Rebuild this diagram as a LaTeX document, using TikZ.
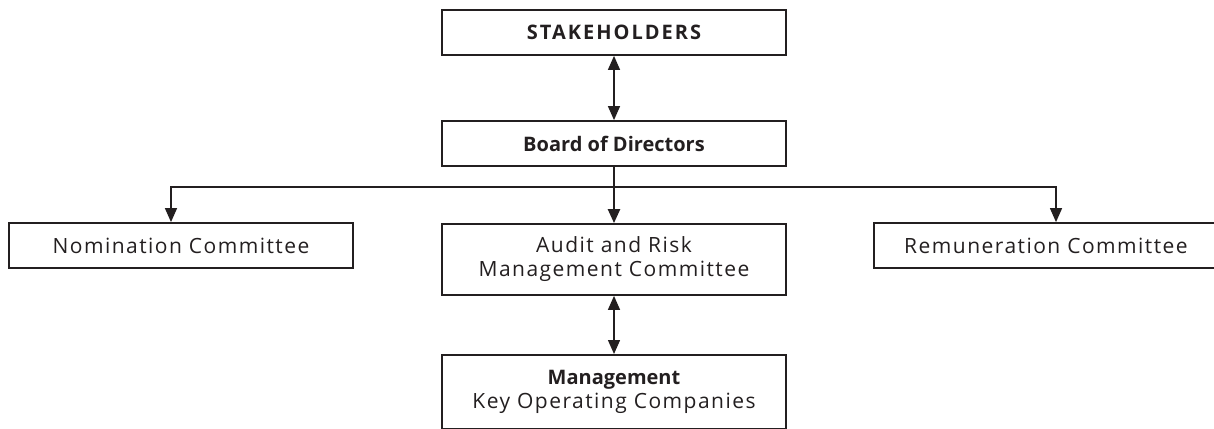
\documentclass[tikz,border=0pt]{standalone}
\usepackage{fontspec}
\setmainfont{Open Sans}[LetterSpace=7,BoldFeatures={LetterSpace=0}]
\newfontfamily\capsfont{Open Sans}[LetterSpace=10]
\usetikzlibrary{arrows.meta}
\definecolor{ink}{HTML}{231F20}
\begin{document}
\begin{tikzpicture}[x=1pt,y=-1pt,
  box/.style={draw=ink,line width=1.8pt,minimum width=344pt,inner sep=0pt,align=center,text=ink,
    font=\fontsize{21}{24}\selectfont},
  tip/.style={-{Triangle[width=12pt,length=14pt]}},
  biarrow/.style={{Triangle[width=12pt,length=14pt]}-{Triangle[width=12pt,length=14pt]},line width=1.4pt,draw=ink},
  link/.style={line width=1.4pt,draw=ink}]
\useasboundingbox (0,0) rectangle (1214,428);
\clip (0,0) rectangle (1214,428);
\node[box,minimum height=45pt,font=\capsfont\fontsize{20}{24}\selectfont\bfseries] (stake) at (614,32.5) {STAKEHOLDERS};
\node[box,minimum height=45pt,font=\fontsize{20}{24}\selectfont\bfseries] (board) at (614,143.5) {Board of Directors};
\node[box,minimum height=45pt] (nom) at (181,245.5) {Nomination Committee};
\node[box,minimum height=71pt] (audit) at (614,259.5) {Audit and Risk\\Management Committee};
\node[box,minimum height=74pt,anchor=north] (mgmt) at (614,354) {{\fontsize{20}{24}\selectfont\bfseries Management}\\Key Operating Companies};
\node[box,minimum height=45pt] (rem) at (1046,245.5) {Remuneration Committee};
\coordinate (hub) at (614,187);
\draw[biarrow] (stake) -- (board);
\draw[biarrow] (audit) -- (mgmt);
\draw[link,line width=2.4pt,tip] (board.south) -- (audit.north);
\draw[link,tip] (hub) -| ([xshift=-10pt]nom.north);
\draw[link,tip] (hub) -| ([xshift=10pt]rem.north);
\end{tikzpicture}
\end{document}
